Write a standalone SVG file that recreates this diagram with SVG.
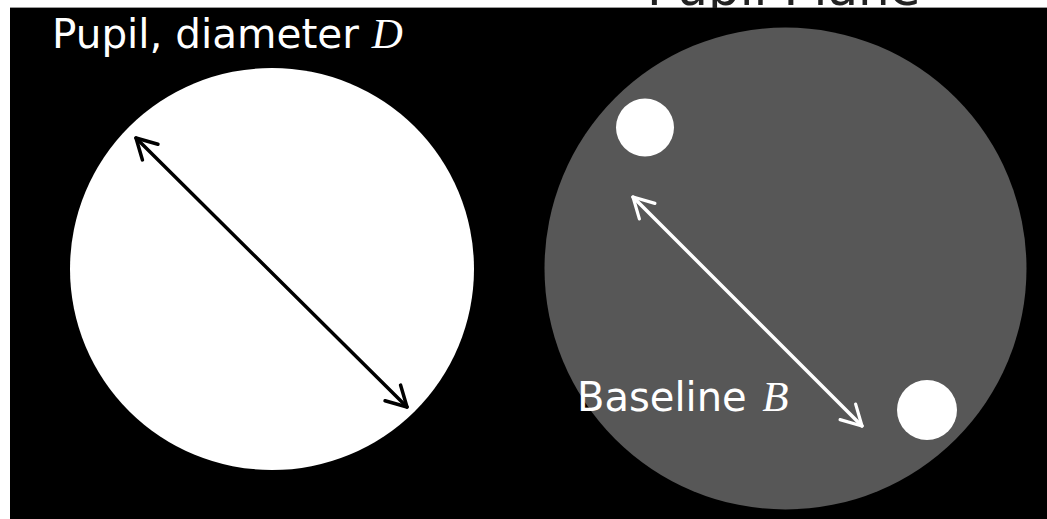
<svg xmlns="http://www.w3.org/2000/svg" width="1047" height="519" viewBox="0 0 1047 519">
  <style>
    .lbl { font-family: "DejaVu Sans", "Liberation Sans", sans-serif; fill: #ffffff; }
    .math { font-family: "Liberation Serif", "DejaVu Serif", serif; font-style: italic; }
    .arrow { fill: none; stroke-width: 3.5; stroke-linecap: round; }
  </style>
  <defs>
    <marker id="headBlack" markerUnits="userSpaceOnUse" markerWidth="40" markerHeight="40" viewBox="-30 -20 40 40" refX="0" refY="0" orient="auto-start-reverse" overflow="visible">
      <path d="M-20,-11 L0,0 L-20,11" fill="none" stroke="#000000" stroke-width="3.5" stroke-linecap="round" stroke-linejoin="round"/>
    </marker>
    <marker id="headWhite" markerUnits="userSpaceOnUse" markerWidth="40" markerHeight="40" viewBox="-30 -20 40 40" refX="0" refY="0" orient="auto-start-reverse" overflow="visible">
      <path d="M-20,-11 L0,0 L-20,11" fill="none" stroke="#ffffff" stroke-width="3.2" stroke-linecap="round" stroke-linejoin="round"/>
    </marker>
  </defs>

  <rect x="0" y="0" width="1047" height="519" fill="#ffffff"/>
  <rect x="10" y="8" width="1037" height="511" fill="#000000"/>
  <line x1="10" y1="7.5" x2="1047" y2="7.5" stroke="#9a9a9a" stroke-width="1"/>

  <g id="top-title">
    <text x="647" y="5" font-family="DejaVu Sans, Liberation Sans, sans-serif" font-size="50" fill="#222222">Pupil Plane</text>
  </g>
  <rect x="10" y="8" width="1037" height="10" fill="#000000"/>

  <g id="pupil">
    <ellipse cx="272" cy="269" rx="202" ry="201" fill="#ffffff"/>
    <text class="lbl" x="52" y="48" font-size="40.5">Pupil, diameter <tspan class="math" font-size="43">D</tspan></text>
  </g>

  <g id="pupil-plane">
    <circle cx="785.5" cy="268.5" r="241" fill="#575757"/>
    <circle id="sub-aperture-1" cx="645" cy="127.5" r="29" fill="#ffffff"/>
    <circle id="sub-aperture-2" cx="927" cy="410" r="30" fill="#ffffff"/>
    <text class="lbl" x="577" y="411" font-size="40">Baseline <tspan class="math" dx="3" font-size="43">B</tspan></text>
  </g>

  <g id="connectors">
    <line class="arrow" x1="136" y1="138" x2="407" y2="407" stroke="#000000" marker-start="url(#headBlack)" marker-end="url(#headBlack)"/>
    <line class="arrow" x1="633" y1="197" x2="862" y2="426" stroke="#ffffff" stroke-width="3.2" marker-start="url(#headWhite)" marker-end="url(#headWhite)"/>
  </g>
</svg>
